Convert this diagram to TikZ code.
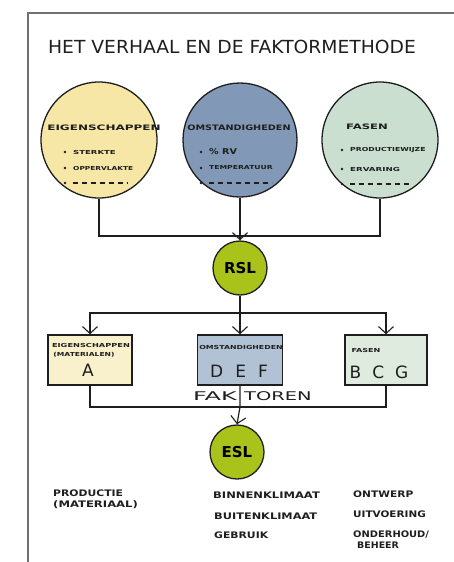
\documentclass[tikz,border=0pt]{standalone}
\usepackage{fontspec}
\setmainfont{DejaVu Sans}
\usetikzlibrary{arrows.meta}
\definecolor{cyel}{HTML}{F6E7A6}
\definecolor{cblu}{HTML}{8199B6}
\definecolor{cgrn}{HTML}{CADFCF}
\definecolor{clime}{HTML}{A9C31B}
\definecolor{byel}{HTML}{F9F1CC}
\definecolor{bblu}{HTML}{B2C2D5}
\definecolor{bgrn}{HTML}{E0EBDF}
\definecolor{ink}{HTML}{1E1E1E}
\definecolor{framec}{HTML}{707070}
\newcommand{\hstretch}[2]{\scalebox{#1}[1]{#2}}
\tikzset{
  bigcirc/.style={circle, draw=ink, line width=1.3pt, inner sep=0pt},
  smallcirc/.style={circle, draw=ink, line width=1.3pt, fill=clime, minimum size=54pt, inner sep=0pt, font=\bfseries\fontsize{15}{15}\selectfont},
  factbox/.style={rectangle, draw=ink, line width=1.4pt, minimum width=84pt, minimum height=50pt, inner sep=0pt},
  conn/.style={draw=ink, line width=1.2pt},
  arr/.style={conn, -{Straight Barb[length=7pt,width=15pt,line width=1.1pt]}},
  hd/.style={font=\bfseries\fontsize{7.5}{8}\selectfont, inner sep=0pt, text=ink},
  it/.style={font=\bfseries\fontsize{5.5}{6}\selectfont, inner sep=0pt, anchor=west, text=ink},
  dot/.style={circle, fill=ink, minimum size=2.8pt, inner sep=0pt},
  dashln/.style={draw=ink, line width=1.3pt, dash pattern=on 5pt off 4pt},
  boxhd/.style={font=\bfseries\fontsize{5.5}{6}\selectfont, inner sep=0pt, text=ink},
  boxlet/.style={font=\fontsize{17}{17}\selectfont, inner sep=0pt, text=ink},
  faktxt/.style={font=\fontsize{12}{12}\selectfont, inner sep=0pt, text=ink},
  lbl/.style={font=\bfseries\fontsize{9}{9}\selectfont, inner sep=0pt, anchor=west, text=ink},
}
\begin{document}
\begin{tikzpicture}[x=1pt, y=-1pt]
\useasboundingbox (0,0) rectangle (454,562);
% frame
\draw[framec, line width=2pt] (28,562) -- (28,13) -- (454,13);
% title
\node[font=\fontsize{18}{18}\selectfont, text=ink, inner sep=0pt] (title) at (232,47) {\hstretch{1.04}{HET VERHAAL EN DE FAKTORMETHODE}};
% big circles
\node[bigcirc, fill=cyel, minimum size=116pt] (yc) at (99,140) {};
\node[bigcirc, fill=cblu, minimum size=114pt] (bc) at (240,140) {};
\node[bigcirc, fill=cgrn, minimum size=116pt] (gc) at (380,140) {};
% circle texts - yellow
\node[hd] (yh) at (104,128) {\hstretch{1.6}{EIGENSCHAPPEN}};
\node[dot] (yd1) at (65,152) {}; \node[it] (yt1) at (73,152) {\hstretch{1.55}{STERKTE}};
\node[dot] (yd2) at (65,168) {}; \node[it] (yt2) at (73,168) {\hstretch{1.35}{OPPERVLAKTE}};
\node[dot] (yd3) at (65,183) {};
\draw[dashln] ([xshift=6pt]yd3.east) -- ++(55,0);
% blue
\node[hd] (bh) at (239,128) {\hstretch{1.29}{OMSTANDIGHEDEN}};
\node[dot] (bd1) at (201,152) {}; \node[it, font=\bfseries\fontsize{8}{8}\selectfont] (bt1) at (209,152) {\hstretch{1.2}{\% RV}};
\node[dot] (bd2) at (201,168) {}; \node[it] (bt2) at (209,168) {\hstretch{1.39}{TEMPERATUUR}};
\node[dot] (bd3) at (201,183) {};
\draw[dashln] ([xshift=6pt]bd3.east) -- ++(63,0);
% green
\node[hd] (gh) at (367,127) {\hstretch{1.55}{FASEN}};
\node[dot] (gd1) at (342,150) {}; \node[it] (gt1) at (350,150) {\hstretch{1.41}{PRODUCTIEWIJZE}};
\node[dot] (gd2) at (342,169) {}; \node[it] (gt2) at (350,169) {\hstretch{1.58}{ERVARING}};
\node[dot] (gd3) at (342,184) {};
\draw[dashln] ([xshift=6pt]gd3.east) -- ++(60,0);
% RSL
\node[smallcirc] (rsl) at (240,268) {RSL};
% bus 1
\coordinate (bus1) at (240,236);
\draw[conn] (yc.south) |- (bus1) -| (gc.south);
\draw[arr] (bc.south) -- (rsl.north);
% boxes
\node[factbox, fill=byel] (ya) at (90,360) {};
\node[factbox, fill=bblu, minimum width=85pt] (bd) at (240,360) {};
\node[factbox, fill=bgrn, minimum width=82pt] (gb) at (386,360) {};
\node[boxhd] (yat1) at (91,345) {\hstretch{1.5}{EIGENSCHAPPEN}};
\node[boxhd] (yat2) at (84,355) {\hstretch{1.38}{(MATERIALEN)}};
\node[boxlet] (yat3) at (88,370) {A};
\node[boxhd] (bdt1) at (241,347) {\hstretch{1.42}{OMSTANDIGHEDEN}};
\node[boxlet] (bdt2) at (239,371) {D\hspace{12pt}E\hspace{12pt}F};
\node[boxhd] (gbt1) at (366,350) {\hstretch{1.47}{FASEN}};
\node[boxlet] (gbt2) at (379,372) {B\hspace{11pt}C\hspace{11pt}G};
% bus 2
\coordinate (bus2) at (240,313);
\draw[conn] (rsl.south) -- (bus2);
\draw[arr] (bus2) -| (ya.north);
\draw[arr] (bus2) -| (gb.north);
\draw[arr] (bus2) -- (bd.north);
% ESL
\node[smallcirc] (esl) at (237,452) {ESL};
\coordinate (bus3) at (240,407);
\draw[conn] (ya.south) |- (bus3) -| (gb.south);
\draw[arr] (bd.south) -- (bus3) -- (esl.north);
\node[faktxt, anchor=east] (fak1) at (237,396) {\hstretch{2.0}{FAK}};
\node[faktxt, anchor=west] (fak2) at (244,396) {\hstretch{1.62}{TOREN}};
% bottom labels
\node[lbl] (p1) at (53,493) {\hstretch{1.2}{PRODUCTIE}};
\node[lbl] (p2) at (53,505) {\hstretch{1.29}{(MATERIAAL)}};
\node[lbl] (k1) at (213,495) {\hstretch{1.28}{BINNENKLIMAAT}};
\node[lbl] (k2) at (214,516) {\hstretch{1.26}{BUITENKLIMAAT}};
\node[lbl] (k3) at (214,535) {\hstretch{1.2}{GEBRUIK}};
\node[lbl] (o1) at (353,494) {\hstretch{1.18}{ONTWERP}};
\node[lbl] (o2) at (353,514) {\hstretch{1.16}{UITVOERING}};
\node[lbl] (o3) at (353,535) {\hstretch{1.1}{ONDERHOUD/}};
\node[lbl] (o4) at (357,545) {\hstretch{1.05}{BEHEER}};
\end{tikzpicture}
\end{document}
